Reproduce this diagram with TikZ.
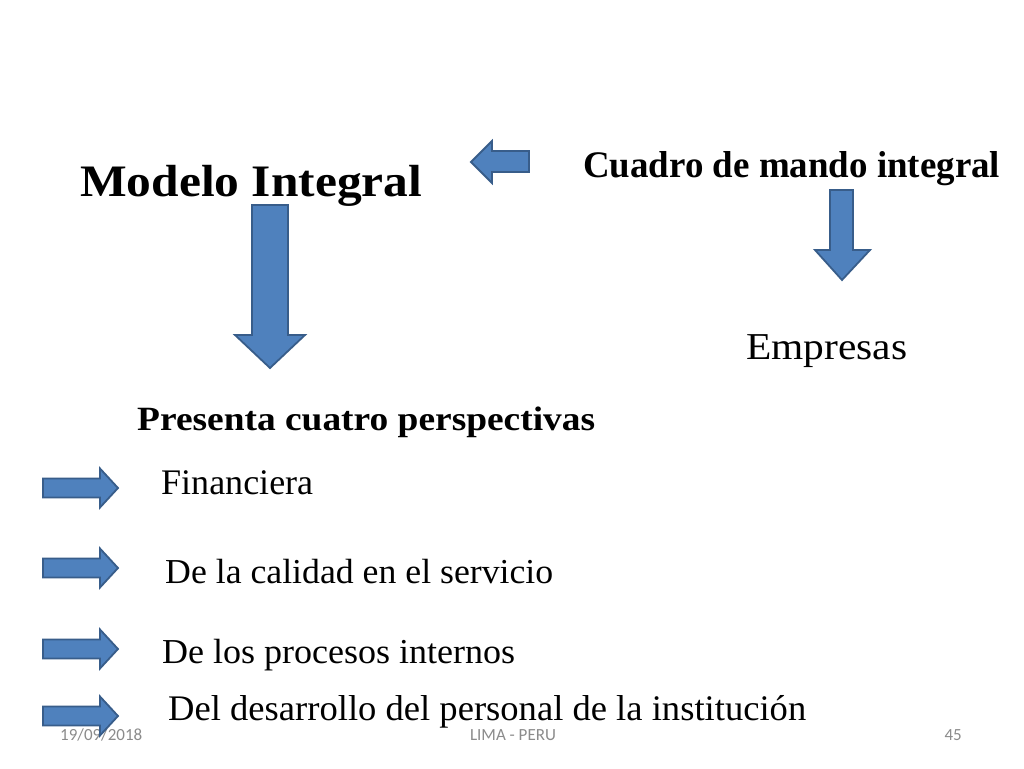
\documentclass[tikz,border=0pt]{standalone}
\usepackage{fontspec}
\setmainfont{Liberation Serif}
\newfontfamily\footfont{Carlito}
\usepackage{graphicx}
\definecolor{arrowfill}{HTML}{4F81BD}
\definecolor{arrowline}{HTML}{385D8A}
\definecolor{footgray}{HTML}{8B8B8B}
\newcommand{\fitto}[2]{\resizebox{#1}{\height}{#2}}
\tikzset{
  blockarrow/.style={fill=arrowfill, draw=arrowline, line width=1.8pt, line join=miter},
  labeltext/.style={anchor=base west, inner sep=0pt, text=black},
  foot/.style={inner sep=0pt, text=footgray, font=\footfont\fontsize{17}{20}\selectfont},
}
\begin{document}
\begin{tikzpicture}[x=1pt,y=-1pt]
\fill[white] (0,0) rectangle (1024,768);
\useasboundingbox (0,0) rectangle (1024,768);

% footer
\node[foot, anchor=base west] (fecha) at (60,740) {19/09/2018};
\node[foot, anchor=base] (lugar) at (513,740) {LIMA - PERU};
\node[foot, anchor=base east] (pagina) at (962,740) {45};

% texts
\node[labeltext, font=\bfseries\fontsize{45}{54}\selectfont] (modelo) at (80,196) {\fitto{342pt}{Modelo Integral}};
\node[labeltext, font=\bfseries\fontsize{37.5}{45}\selectfont] (cuadro) at (583,177) {\fitto{417pt}{Cuadro de mando integral}};
\node[labeltext, font=\fontsize{38}{45}\selectfont] (empresas) at (746,359) {\fitto{161pt}{Empresas}};
\node[labeltext, font=\bfseries\fontsize{34}{40}\selectfont] (presenta) at (137,430) {\fitto{458pt}{Presenta cuatro perspectivas}};
\node[labeltext, font=\fontsize{36}{43}\selectfont] (financiera) at (161,494) {\fitto{152pt}{Financiera}};
\node[labeltext, font=\fontsize{35}{42}\selectfont] (calidad) at (165,583) {\fitto{388pt}{De la calidad en el servicio}};
\node[labeltext, font=\fontsize{35}{42}\selectfont] (procesos) at (162,663) {\fitto{353pt}{De los procesos internos}};
\node[labeltext, font=\fontsize{36}{43}\selectfont] (desarrollo) at (168,720) {\fitto{638pt}{Del desarrollo del personal de la institución}};

% block arrows
\draw[blockarrow] (529,151) -- (492,151) -- (492,141) -- (471,162) -- (492,183) -- (492,172) -- (529,172) -- cycle;
\draw[blockarrow] (252,205) -- (288,205) -- (288,335) -- (305,335) -- (270,368) -- (235,335) -- (252,335) -- cycle;
\draw[blockarrow] (830,190) -- (853,190) -- (853,250) -- (870,250) -- (842,280) -- (815,250) -- (830,250) -- cycle;
\foreach \yy in {488,568,649,716}{
  \draw[blockarrow] (43,{\yy-9.5}) -- (100,{\yy-9.5}) -- (100,{\yy-19.5}) -- (118,\yy) -- (100,{\yy+19.5}) -- (100,{\yy+9.5}) -- (43,{\yy+9.5}) -- cycle;
}
\end{tikzpicture}
\end{document}
